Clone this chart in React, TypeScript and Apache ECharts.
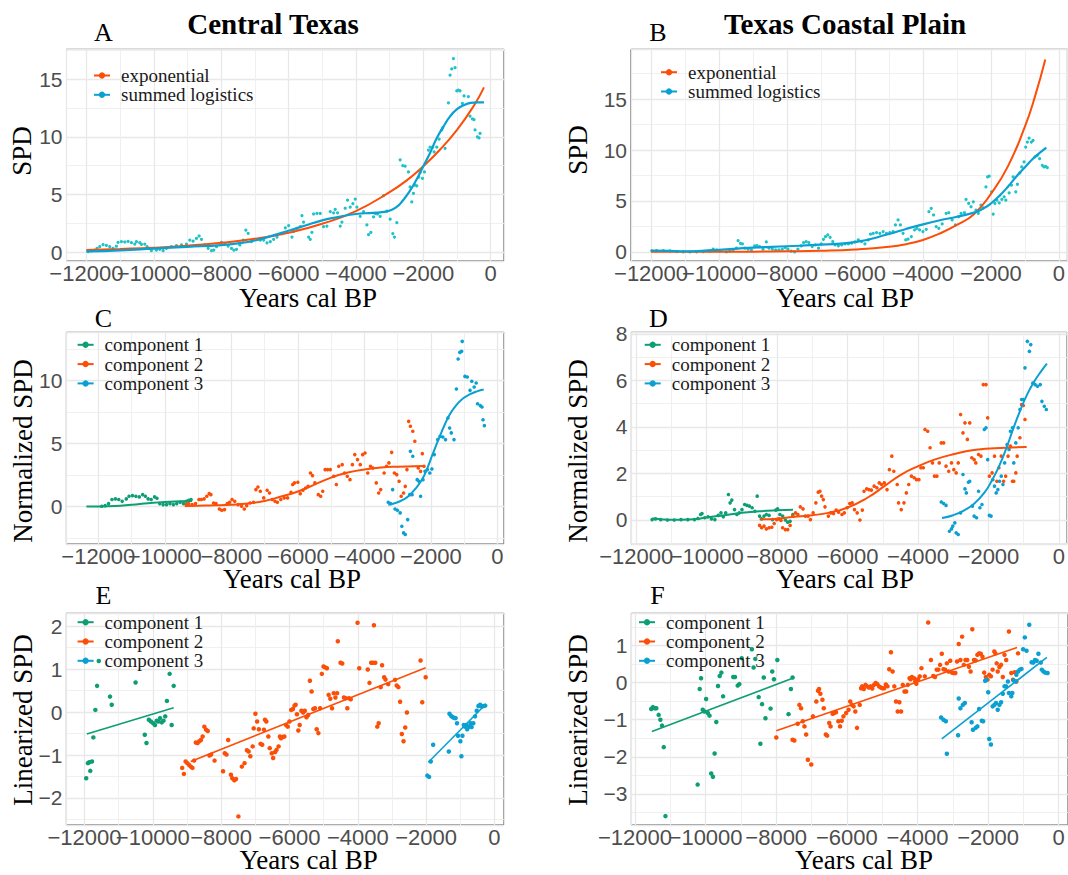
import React, { useEffect, useRef } from "react";
import * as echarts from "echarts";

// ---------- colours ----------
const ORANGE = "#FC4E07";
const BLUE = "#0AA0D2";
const GREEN = "#0E9E74";
const CYAN = "#1EC3C9";

// ---------- panel A : Central Texas SPD ----------
const aSpd: [number, number][] = [
  [-11950,0.03],[-11851,0.09],[-11752,0.17],[-11683,0.32],[-11604,0.46],[-11505,0.64],[-11406,0.58],[-11307,0.46],[-11208,0.32],[-11109,0.5],
  [-11060,0.84],[-10960,0.9],[-10861,0.87],[-10762,0.92],[-10663,0.81],[-10564,0.69],[-10515,0.9],[-10416,0.81],[-10366,0.66],[-10267,0.69],
  [-10198,0.46],[-10119,0.32],[-10070,0.12],[-9921,0.17],[-9822,0.23],[-9722,0.12],[-9624,0.32],[-9475,0.46],[-9327,0.55],[-9178,0.61],
  [-9030,0.69],[-8931,1.04],[-8832,0.95],[-8733,1.18],[-8654,1.39],[-8584,1.1],[-8485,0.61],[-8386,0.32],[-8287,0.12],[-8218,0.17],
  [-8139,0.46],[-7990,0.84],[-7891,0.69],[-7792,0.52],[-7693,0.32],[-7624,0.17],[-7545,0.23],[-7446,0.61],[-7347,1.04],[-7268,1.9],
  [-7199,1.62],[-7100,0.9],[-6837,1.04],[-6738,1.04],[-6639,0.8],[-6541,0.9],[-6442,1.1],[-6343,1.3],[-6195,1.6],[-6096,2.1],
  [-5997,2.3],[-5898,1.3],[-5849,1.8],[-5750,2.05],[-5651,2.2],[-5602,3.15],[-5553,2.6],[-5404,1.3],[-5355,1.1],[-5306,1.7],
  [-5256,3.3],[-5157,3.35],[-5059,3.35],[-4960,2.2],[-4861,2.25],[-4762,3.5],[-4663,3.4],[-4614,3.7],[-4545,3.4],[-4466,2.25],
  [-4416,2.6],[-4318,3.8],[-4248,4.5],[-4169,3.9],[-4090,4.2],[-4021,4.6],[-3972,3.9],[-3873,3.1],[-3774,3.5],[-3675,2.35],
  [-3626,1.5],[-3557,1.7],[-3478,3.05],[-3428,3.35],[-3359,3.3],[-3280,3.1],[-3181,4.9],[-3083,3.55],[-2984,2.85],[-2905,1.6],
  [-2855,1.3],[-2786,2.55],[-2687,8.0],[-2608,7.5],[-2539,7.45],[-2440,6.95],[-2391,5.65],[-2342,4.35],[-2292,5.1],[-2243,5.8],
  [-2193,5.75],[-2134,6.5],[-2095,6.9],[-2025,6.4],[-1966,6.95],[-1848,8.85],[-1798,9.1],[-1719,9.1],[-1680,8.7],[-1600,9.1],
  [-1531,9.8],[-1452,10.6],[-1423,10.8],[-1354,9.0],[-1255,12.95],[-1205,15.35],[-1156,15.9],[-1107,16.8],[-1057,16.0],[-1008,14.0],
  [-958,14.05],[-909,14.0],[-840,12.9],[-790,13.55],[-662,13.5],[-613,11.8],[-543,11.55],[-494,11.5],[-464,10.6],[-395,10.0],
  [-346,9.9],[-316,10.3]
];
const aExp: [number, number][] = [
  [-12000,0.18],[-11000,0.27],[-10000,0.38],[-9000,0.55],[-8000,0.8],[-7000,1.15],[-6000,1.68],[-5000,2.45],
  [-4000,3.55],[-3000,5.2],[-2500,6.2],[-2000,7.45],[-1500,8.9],[-1000,10.6],[-500,12.7],[-200,14.3]
];
const aLogis: [number, number][] = [
  [-12000,0.05],[-11000,0.15],[-10000,0.3],[-9000,0.45],[-8000,0.6],[-7500,0.75],[-7000,1.0],[-6500,1.4],[-6000,1.85],
  [-5500,2.3],[-5000,2.75],[-4500,3.05],[-4000,3.3],[-3500,3.4],[-3100,3.5],[-2800,3.9],[-2600,4.5],[-2400,5.3],[-2200,6.3],
  [-2000,7.45],[-1800,8.6],[-1600,9.9],[-1400,10.9],[-1200,11.8],[-1000,12.4],[-800,12.75],[-600,12.95],[-400,13.0],[-200,13.0]
];

// ---------- panel B : Texas Coastal Plain SPD ----------
const bSpd: [number, number][] = [
  [-11980,0.1],[-11834,0.13],[-11638,0.13],[-11443,0.1],[-11247,0.03],[-11052,0],[-10856,0],[-10661,0],[-10465,0.03],[-10270,0.06],
  [-10172,0.26],[-10074,0.19],[-9977,0.1],[-9781,0],[-9683,0.06],[-9586,0.19],[-9488,0.36],[-9439,1.1],[-9370,0.84],[-9312,0.78],
  [-9243,0.36],[-9146,0.26],[-9048,0.19],[-8950,0.58],[-8882,0.62],[-8804,0.52],[-8706,0.26],[-8608,0.97],[-8530,0.36],[-8432,0.26],
  [-8334,0.19],[-8237,0.19],[-8139,0.26],[-8051,0.42],[-7973,0.26],[-7875,0.06],[-7777,0],[-7679,0.26],[-7582,0.58],[-7513,0.91],
  [-7435,1.0],[-7357,0.91],[-7259,0.52],[-7161,0.68],[-7073,0.36],[-6995,0.78],[-6927,1.23],[-6868,1.49],[-6800,1.66],[-6731,1.43],
  [-6653,1.0],[-6585,0.68],[-6488,0.59],[-6390,0.68],[-6293,0.78],[-6195,0.78],[-6098,0.85],[-6000,0.98],[-5902,1.17],[-5805,1.01],
  [-5707,0.78],[-5610,1.17],[-5541,1.73],[-5463,1.82],[-5366,1.89],[-5268,1.82],[-5171,1.99],[-5073,1.82],[-4976,1.89],[-4878,1.99],
  [-4810,2.64],[-4732,3.13],[-4663,2.64],[-4585,1.82],[-4507,1.17],[-4439,1.24],[-4341,1.5],[-4244,2.15],[-4176,2.31],[-4098,2.15],
  [-4000,1.99],[-3902,2.21],[-3824,3.94],[-3756,4.27],[-3688,3.62],[-3610,2.48],[-3532,2.31],[-3434,2.74],[-3317,3.78],[-3239,3.84],
  [-3141,3.13],[-3044,2.64],[-2946,3.45],[-2878,3.78],[-2780,3.84],[-2732,5.15],[-2654,4.76],[-2585,4.43],[-2517,4.92],[-2439,4.1],
  [-2371,3.78],[-2293,4.59],[-2224,4.33],[-2146,6.38],[-2098,7.36],[-2049,7.43],[-1980,5.9],[-1932,3.71],[-1883,4.76],[-1824,5.08],
  [-1756,4.82],[-1678,5.15],[-1610,5.41],[-1561,5.08],[-1463,5.8],[-1395,6.55],[-1346,7.36],[-1268,5.9],[-1220,6.64],[-1151,7.75],
  [-1093,8.34],[-1024,8.83],[-976,10.29],[-927,10.78],[-878,11.17],[-810,10.78],[-761,10.94],[-702,9.32],[-634,9.48],[-566,9.15],
  [-488,8.5],[-439,8.34],[-390,8.4],[-341,8.27]
];
const bExp: [number, number][] = [
  [-12000,0.0],[-10000,0.01],[-9000,0.02],[-8000,0.05],[-7000,0.11],[-6000,0.24],[-5000,0.5],[-4500,0.75],[-4000,1.17],
  [-3500,1.8],[-3000,2.64],[-2500,3.7],[-2000,5.7],[-1500,8.4],[-1000,12.3],[-700,15.3],[-400,18.9]
];
const bLogis: [number, number][] = [
  [-12000,0.13],[-11500,0.1],[-11000,0.05],[-10500,0.1],[-10000,0.2],[-9000,0.42],[-8000,0.55],[-7000,0.7],[-6000,0.95],
  [-5000,1.75],[-4500,2.25],[-4000,2.7],[-3500,3.1],[-3000,3.45],[-2500,3.85],[-2200,4.3],[-2000,4.75],[-1750,5.5],
  [-1500,6.4],[-1250,7.4],[-1000,8.3],[-750,9.2],[-500,9.9],[-370,10.25]
];

// ---------- panel C : Central Texas normalized components ----------
const cPts1: [number, number][] = [
  [-11897,0.03],[-11795,0.08],[-11692,0.24],[-11590,0.56],[-11487,0.61],[-11385,0.56],[-11282,0.42],[-11159,0.61],[-11077,0.82],[-10974,0.87],
  [-10871,0.82],[-10769,0.77],[-10666,0.95],[-10584,0.82],[-10502,0.61],[-10410,0.56],[-10307,0.77],[-10236,0.66],[-10154,0.24],[-10051,0.16],
  [-9948,0.16],[-9846,0.24],[-9743,0.16],[-9641,0.24],[-9538,0.34],[-9436,0.24],[-9354,0.42],[-9282,0.5],[-9210,0.56]
];
const cPts2: [number, number][] = [
  [-9353,0.16],[-9282,0.24],[-9179,0.16],[-9077,0.24],[-8974,0.56],[-8902,0.56],[-8820,0.61],[-8738,0.82],[-8666,1.03],[-8615,0.95],
  [-8533,0.29],[-8461,0.24],[-8359,-0.19],[-8287,-0.29],[-8205,-0.24],[-8123,0.24],[-8051,0.34],[-7979,0.56],[-7897,0.42],[-7795,0.16],
  [-7692,0.03],[-7610,-0.19],[-7538,0.08],[-7436,0.29],[-7333,0.34],[-7261,1.35],[-7200,1.56],[-7128,1.22],[-7025,0.69],[-6923,1.3],
  [-6851,1.08],[-6769,0.56],[-6687,0.42],[-6615,0.34],[-6513,0.56],[-6410,0.69],[-6307,0.69],[-6205,1.14],[-6154,1.75],[-6102,1.88],
  [-6000,1.93],[-5928,1.03],[-5846,1.3],[-5764,1.48],[-5692,1.61],[-5620,2.67],[-5559,2.46],[-5487,1.88],[-5384,0.95],[-5313,0.82],
  [-5251,1.22],[-5179,2.94],[-5107,2.94],[-5025,2.94],[-4923,2.41],[-4841,1.75],[-4769,3.2],[-4666,3.33],[-4595,2.67],[-4513,2.41],
  [-4431,2.14],[-4359,3.33],[-4287,4.13],[-4205,3.73],[-4123,3.33],[-4051,4.13],[-3979,4.26],[-3897,2.67],[-3815,3.2],[-3743,3.07],
  [-3641,1.88],[-3569,1.08],[-3508,1.35],[-3405,2.67],[-3333,3.2],[-3261,3.47],[-3179,4.31],[-3097,2.67],[-3026,2.54],[-2954,2.01],
  [-2892,0.82],[-2820,1.08],[-2769,1.61],[-2718,2.94],[-2667,6.77],[-2615,6.38],[-2543,5.98],[-2482,5.19],[-2379,3.07],[-2308,2.8],
  [-2256,4.21],[-2205,3.2]
];
const cPts3: [number, number][] = [
  [-3282,0.34],[-3210,0.24],[-3149,1.35],[-3077,-0.19],[-3005,-0.29],[-2923,-0.5],[-2872,-1.56],[-2820,-2.09],[-2769,-2.22],[-2697,-1.03],
  [-2636,0.95],[-2564,0.95],[-2615,4.39],[-2543,4.0],[-2410,2.14],[-2359,2.01],[-2308,0.82],[-2236,2.14],[-2174,2.8],[-2103,2.94],
  [-2031,2.67],[-1969,2.99],[-1897,4.13],[-1795,5.32],[-1723,5.58],[-1641,5.53],[-1559,5.32],[-1487,7.04],[-1436,6.24],[-1385,5.85],
  [-1303,5.32],[-1231,9.34],[-1179,11.72],[-1128,12.25],[-1077,12.33],[-1056,13.12],[-974,10.34],[-903,10.29],[-821,9.23],[-769,9.95],
  [-697,9.5],[-636,9.81],[-595,8.17],[-513,8.02],[-462,7.91],[-431,6.9],[-390,6.43]
];
const cFit1: [number, number][] = [
  [-12358,0.0],[-11500,0.05],[-11000,0.15],[-10500,0.27],[-10000,0.37],[-9500,0.42],[-9180,0.45]
];
const cFit2: [number, number][] = [
  [-9400,0.05],[-9000,0.07],[-8500,0.1],[-8000,0.15],[-7500,0.25],[-7000,0.45],[-6500,0.8],[-6000,1.2],[-5500,1.75],
  [-5000,2.3],[-4500,2.7],[-4000,2.95],[-3500,3.1],[-3000,3.17],[-2500,3.2],[-2200,3.22]
];
const cFit3: [number, number][] = [
  [-3280,0.15],[-3000,0.35],[-2800,0.6],[-2667,0.85],[-2500,1.3],[-2256,2.2],[-2100,3.1],[-1969,4.0],[-1850,4.8],
  [-1744,5.5],[-1600,6.4],[-1436,7.3],[-1250,8.0],[-1026,8.6],[-800,8.95],[-615,9.15],[-410,9.3]
];

// ---------- panel D : Coastal Plain normalized components ----------
const dPts1: [number, number][] = [
  [-11548,0.01],[-11451,0.04],[-11307,0.01],[-11115,-0.01],[-10922,-0.01],[-10730,0.01],[-10537,0.01],[-10345,0.01],[-10248,0.06],[-10171,0.23],
  [-10133,0.27],[-10056,0.09],[-9960,0.13],[-9864,0.04],[-9767,0.01],[-9671,0.19],[-9594,0.3],[-9527,0.13],[-9460,0.3],[-9382,1.09],
  [-9334,0.73],[-9286,0.85],[-9209,0.44],[-9142,0.23],[-9075,0.3],[-8998,0.44],[-8921,0.66],[-8853,0.62],[-8786,0.59],[-8709,0.52],
  [-8632,0.37],[-8565,1.02],[-8497,0.16],[-8440,0.04],[-8372,0.16],[-8305,0.23],[-8228,0.19],[-8131,0.01],[-8035,0.42],[-7987,0.47],
  [-7920,0.23],[-7843,0.16],[-7766,-0.01],[-7698,-0.1],[-7631,-0.06],[-7554,0.23]
];
const dPts2: [number, number][] = [
  [-8497,-0.24],[-8440,-0.34],[-8372,-0.27],[-8305,-0.39],[-8228,-0.34],[-8151,-0.32],[-8083,-0.16],[-8016,0.01],[-7958,0.04],[-7891,-0.03],
  [-7843,-0.34],[-7766,-0.42],[-7698,-0.42],[-7631,-0.24],[-7554,0.16],[-7477,0.3],[-7410,0.23],[-7342,0.56],[-7265,0.47],[-7198,0.16],
  [-7121,0.16],[-7054,0.01],[-6977,0.3],[-6900,0.73],[-6832,1.19],[-6784,1.23],[-6736,1.02],[-6688,0.87],[-6640,0.56],[-6544,0.16],
  [-6476,0.3],[-6399,0.27],[-6322,0.42],[-6255,0.33],[-6159,0.23],[-6091,0.3],[-6014,0.52],[-5937,0.7],[-5870,0.73],[-5803,0.44],
  [-5726,0.3],[-5649,-0.01],[-5581,0.42],[-5533,1.23],[-5456,1.33],[-5389,1.3],[-5322,1.28],[-5245,1.45],[-5168,1.38],[-5100,1.59],
  [-5033,1.52],[-4956,1.59],[-4879,1.3],[-4812,2.16],[-4744,2.74],[-4686,2.09],[-4590,1.52],[-4552,0.73],[-4475,0.44],[-4398,0.73],
  [-4330,1.16],[-4263,1.52],[-4186,1.88],[-4109,1.81],[-4042,1.73],[-3974,1.73],[-3917,2.24],[-3849,2.24],[-3801,3.89],[-3724,3.81],
  [-3657,3.1],[-3589,2.45],[-3532,1.88],[-3464,1.88],[-3397,2.45],[-3339,3.31],[-3272,3.31],[-3204,2.31],[-3127,2.09],[-3050,2.45],
  [-2983,2.16],[-2916,2.02],[-2858,2.45],[-2791,4.53],[-2723,3.74],[-2666,4.17],[-2598,3.46],[-2531,4.17],[-2473,2.67],[-2406,2.59],
  [-2358,2.45],[-2281,2.81],[-2213,2.74],[-2146,5.82],[-2069,5.82],[-2021,4.39],[-1973,1.88],[-1896,2.02],[-1828,2.74],[-1761,1.66],
  [-1703,2.24],[-1636,2.74],[-1569,1.66],[-1511,1.88],[-1443,2.74],[-1376,3.17],[-1318,1.66],[-1280,1.66],[-1222,2.02],[-1184,2.74],
  [-1107,3.53],[-1059,4.96],[-1010,4.92],[-962,4.32]
];
const dPts3: [number, number][] = [
  [-3339,0.77],[-3272,0.7],[-3204,0.62],[-3108,-0.49],[-3050,-0.39],[-3012,-0.27],[-2954,-0.13],[-2916,-0.56],[-2858,-0.63],[-2791,0.3],
  [-2723,1.95],[-2666,1.33],[-2627,1.16],[-2569,1.62],[-2531,1.66],[-2454,0.59],[-2406,0.16],[-2338,0.09],[-2281,1.23],[-2242,0.52],
  [-2184,0.66],[-2117,3.89],[-2069,3.96],[-2021,2.59],[-1973,0.19],[-1925,0.16],[-1876,1.73],[-1828,1.45],[-1780,1.16],[-1732,1.3],
  [-1684,1.66],[-1636,1.88],[-1588,1.52],[-1540,2.45],[-1472,3.24],[-1415,3.03],[-1376,3.81],[-1318,3.96],[-1280,2.45],[-1222,3.31],
  [-1155,3.96],[-1107,4.75],[-1059,5.18],[-1010,5.18],[-962,6.54],[-895,7.68],[-837,7.25],[-799,7.54],[-741,5.89],[-674,5.82],
  [-606,5.75],[-529,5.82],[-481,5.1],[-414,4.89],[-356,4.75]
];
const dFit1: [number, number][] = [
  [-11548,0.06],[-11300,0.03],[-11000,0.0],[-10500,0.01],[-10200,0.05],[-10000,0.1],[-9500,0.2],[-9000,0.3],[-8500,0.37],[-8000,0.41],[-7550,0.43]
];
const dFit2: [number, number][] = [
  [-8497,0.02],[-8000,0.05],[-7554,0.12],[-7000,0.2],[-6544,0.3],[-6014,0.52],[-5437,0.95],[-4956,1.45],[-4475,1.95],
  [-3994,2.31],[-3513,2.6],[-3031,2.81],[-2358,3.02],[-1500,3.1],[-915,3.13]
];
const dFit3: [number, number][] = [
  [-3320,0.08],[-3000,0.2],[-2700,0.4],[-2400,0.7],[-2100,1.2],[-1900,1.7],[-1700,2.3],[-1500,3.05],[-1300,3.9],
  [-1100,4.7],[-900,5.4],[-700,5.95],[-500,6.4],[-340,6.72]
];

// ---------- panel E : Central Texas linearized ----------
const ePts1: [number, number][] = [
  [-11950,-1.54],[-11901,-1.19],[-11861,-1.17],[-11781,-1.15],[-11831,-1.37],[-11741,-0.59],[-11682,0.05],[-11632,0.61],[-11582,1.19],[-11253,0.36],
  [-11203,0.17],[-10505,0.69],[-10236,-0.53],[-10186,-0.72],[-10116,-0.18],[-10057,-0.22],[-9987,-0.26],[-9937,-0.3],[-9887,-0.2],[-9837,-0.22],
  [-9788,-0.14],[-9738,-0.24],[-9688,-0.2],[-9638,-0.1],[-9588,0.26],[-9508,0.89],[-9449,-0.3],[-9389,0.61]
];
const ePts2: [number, number][] = [
  [-9140,-1.3],[-9090,-1.44],[-9040,-1.15],[-8990,-1.19],[-8941,-1.23],[-8891,-1.27],[-8841,-1.3],[-8791,-1.13],[-8741,-0.71],[-8691,-0.72],
  [-8641,-0.68],[-8592,-0.65],[-8542,-0.57],[-8492,-0.34],[-8442,-0.41],[-8392,-0.44],[-8342,-1.01],[-8293,-0.99],[-8193,-1.13],[-7944,-1.38],
  [-7894,-0.96],[-7844,-0.99],[-7794,-0.65],[-7714,-1.46],[-7675,-1.54],[-7615,-1.59],[-7565,-1.56],[-7495,-2.43],[-7395,-1.27],[-7316,-1.19],
  [-7246,-0.89],[-7196,-0.92],[-7146,-1.03],[-7077,-0.8],[-7047,-0.38],[-6997,-0.04],[-6947,-0.22],[-6897,-0.4],[-6847,-0.74],[-6798,-0.76],
  [-6748,-0.41],[-6718,-0.18],[-6678,-0.22],[-6618,-0.57],[-6578,-0.84],[-6518,-0.96],[-6478,-1.07],[-6419,-0.93],[-6379,-0.88],[-6319,-0.8],
  [-6279,-0.57],[-6249,-0.61],[-6199,-0.58],[-6150,-0.57],[-6100,-0.3],[-6050,-0.34],[-6000,-0.22],[-5950,0.05],[-5900,0.07],[-5851,0.15],
  [-5821,0.17],[-5781,-0.05],[-5741,-0.43],[-5701,-0.3],[-5651,0.03],[-5601,-0.01],[-5552,0.03],[-5502,-0.12],[-5452,-0.07],[-5402,0.73],
  [-5352,0.48],[-5302,0.07],[-5253,0.09],[-5203,-0.4],[-5153,-0.49],[-5103,0.09],[-5053,0.89],[-5003,1.06],[-4954,1.04],[-4904,1.02],
  [-4854,0.4],[-4804,0.31],[-4754,0.09],[-4704,0.44],[-4655,0.34],[-4605,0.44],[-4585,1.65],[-4505,1.15],[-4455,1.13],[-4405,0.34],
  [-4356,0.32],[-4306,0.09],[-4256,0.32],[-4206,0.3],[-4007,2.08],[-3957,1.02],[-3708,0.99],[-3658,0.68],[-3608,1.15],[-3558,1.15],
  [-3528,2.02],[-3488,1.15],[-3429,-0.34],[-3389,-0.26],[-3329,0.58],[-3289,1.09],[-3229,0.81],[-3189,0.76],[-3110,0.65],[-2910,0.75],
  [-2861,0.62],[-2811,0.58],[-2761,0.24],[-2711,-0.51],[-2661,-0.68],[-2611,-0.36],[-2562,-0.01],[-2163,1.2],[-2113,0.23],[-2013,0.81]
];
const ePts3: [number, number][] = [
  [-1964,-1.48],[-1914,-1.51],[-1864,-1.15],[-1794,-0.76],[-1336,-0.92],[-1316,-0.04],[-1266,-0.09],[-1216,-0.12],[-1166,-0.14],[-1136,-0.14],
  [-1096,-0.26],[-1066,-0.55],[-997,-0.68],[-967,-1.03],[-937,-0.55],[-897,-0.3],[-867,-0.34],[-817,-0.3],[-797,-0.4],[-738,-0.34],
  [-698,-0.26],[-668,-0.35],[-618,-0.26],[-568,-0.1],[-518,0.03],[-468,0.14],[-419,0.17],[-369,0.13],[-319,0.14],[-269,0.15]
];
const eFit1: [number, number][] = [[-11931,-0.51],[-9389,0.1]];
const eFit2: [number, number][] = [[-8891,-1.15],[-2013,1.03]];
const eFit3: [number, number][] = [[-1934,-1.17],[-269,0.17]];

// ---------- panel F : Coastal Plain linearized ----------
const fPts1: [number, number][] = [
  [-11539,-0.71],[-11491,-0.66],[-11443,-0.69],[-11395,-0.69],[-11328,-0.87],[-11280,-1.0],[-11232,-1.16],[-11184,-1.74],[-11136,-3.6],[-10224,-2.75],
  [-10166,-0.17],[-10128,0.12],[-10080,-0.73],[-10032,-0.78],[-9984,-0.44],[-9936,-0.82],[-9888,-0.89],[-9840,-2.45],[-9792,-2.54],[-9744,-1.91],
  [-9696,-1.06],[-9648,-0.09],[-9600,0.18],[-9552,0.27],[-9504,-0.37],[-9216,0.15],[-9168,0.15],[-9091,-0.08],[-9043,-0.04],[-8976,0.66],
  [-8688,0.9],[-8640,0.41],[-8592,0.64],[-8496,-0.39],[-8448,-1.65],[-8400,-0.58],[-8352,0.14],[-8304,-0.96],[-8160,-0.7],[-8112,0.3],
  [-8064,0.09],[-7968,0.61],[-7651,-0.85],[-7584,-0.17],[-7536,0.14]
];
const fPts2: [number, number][] = [
  [-7997,-1.48],[-7536,-1.54],[-7488,-1.56],[-7392,-1.11],[-7344,-0.6],[-7296,-0.69],[-7248,-1.04],[-7200,-1.18],[-7152,-1.4],[-7104,-2.08],
  [-7008,-2.21],[-6960,-0.91],[-6864,-0.51],[-6816,-0.22],[-6787,-0.17],[-6749,-0.3],[-6691,-0.46],[-6653,-0.69],[-6595,-1.4],[-6557,-1.43],
  [-6499,-1.09],[-6461,-1.18],[-6403,-0.84],[-6365,-0.82],[-6307,-0.8],[-6240,-1.04],[-6192,-1.18],[-6144,-1.03],[-6096,-0.91],[-6019,-0.82],
  [-5952,-0.73],[-5904,-0.51],[-5856,-0.6],[-5808,-0.64],[-5760,-0.78],[-5712,-1.22],[-5635,-0.6],[-5597,-0.15],[-5568,-0.1],[-5520,-0.17],
  [-5472,-0.06],[-5424,-0.1],[-5376,-0.13],[-5328,-0.1],[-5280,-0.16],[-5232,-0.06],[-5184,-0.01],[-5136,-0.04],[-5088,-0.1],[-5040,-0.13],
  [-4992,-0.15],[-4944,-0.15],[-4896,-0.05],[-4848,-0.1],[-4800,0.36],[-4752,0.82],[-4704,0.3],[-4656,-0.1],[-4608,-0.51],[-4560,-0.78],
  [-4512,-0.53],[-4464,-0.78],[-4416,-0.06],[-4368,-0.24],[-4320,-0.24],[-4272,-0.06],[-4224,0.12],[-4195,0.09],[-4157,0.15],[-4099,0.12],
  [-4061,0.03],[-4032,-0.03],[-3984,0.09],[-3936,0.17],[-3888,0.39],[-3792,0.17],[-3696,1.62],[-3619,0.61],[-3552,0.18],[-3504,0.15],
  [-3456,0.35],[-3408,0.35],[-3360,0.48],[-3312,0.78],[-3264,0.36],[-3216,0.35],[-3168,0.52],[-3120,0.3],[-3072,0.59],[-3024,0.27],
  [-2976,0.26],[-2928,0.26],[-2880,0.57],[-2832,1.04],[-2784,0.61],[-2736,1.24],[-2688,0.48],[-2640,0.61],[-2592,0.61],[-2544,0.43],
  [-2496,0.3],[-2448,1.44],[-2400,0.61],[-2352,0.6],[-2304,0.75],[-2256,0.79],[-2208,0.78],[-2160,0.7],[-2112,0.27],[-2064,0.15],
  [-2016,0.08],[-1968,0.21],[-1920,0.17],[-1872,0.35],[-1824,0.84],[-1795,0.79],[-1757,0.52],[-1728,0.3],[-1680,0.42],[-1632,0.48],
  [-1584,0.15],[-1536,0.75],[-1488,0.61],[-1411,1.38],[-1344,0.26],[-1296,0.08],[-1248,0.28],[-1200,0.03],[-1152,0.79]
];
const fPts3: [number, number][] = [
  [-3331,-0.94],[-3264,-1.0],[-3197,-1.04],[-3168,-1.92],[-2832,-0.43],[-2784,-0.69],[-2717,-0.6],[-2659,-0.55],[-2850,-1.42],[-2467,-1.07],
  [-2429,-1.27],[-2352,-1.22],[-2304,-1.18],[-2256,-0.71],[-2179,-1.03],[-2141,-1.04],[-2083,0.05],[-2045,0.08],[-1997,-0.26],[-1968,-1.52],
  [-1920,-1.67],[-1872,-0.64],[-1824,-0.6],[-1776,-0.55],[-1728,-0.73],[-1680,-0.6],[-1632,-0.53],[-1584,-0.3],[-1536,-0.1],[-1488,-0.1],
  [-1440,0.03],[-1411,-0.28],[-1344,-0.37],[-1315,-0.28],[-1277,0.06],[-1219,0.03],[-1200,0.21],[-1152,0.3],[-1104,0.35],[-1056,0.37],
  [-1008,0.9],[-960,1.22],[-912,0.86],[-835,1.56],[-768,0.55],[-720,0.54],[-672,0.61],[-624,0.59],[-576,0.78],[-509,0.54],
  [-480,0.35],[-432,0.3],[-384,0.27],[-317,0.26]
];
const fFit1: [number, number][] = [[-11520,-1.32],[-7536,0.12]];
const fFit2: [number, number][] = [[-7997,-1.3],[-1181,0.95]];
const fFit3: [number, number][] = [[-3312,-1.52],[-336,0.68]];

// ---------- texts ----------
const panelTitles = ["Central Texas", "Texas Coastal Plain"];
const panelLetters = ["A", "B", "C", "D", "E", "F"];
const yTitles = ["SPD", "SPD", "Normalized SPD", "Normalized SPD", "Linearized SPD", "Linearized SPD"];
const xTitle = "Years cal BP";
const legendTop = ["exponential", "summed logistics"];
const legendComp = ["component 1", "component 2", "component 3"];

// ---------- layout (pixels) ----------
const grids = [
  { left: 66.5, top: 49.3, width: 437.5, height: 211.7 },
  { left: 631, top: 49.3, width: 437.5, height: 211.7 },
  { left: 66.4, top: 332.3, width: 437.6, height: 211.7 },
  { left: 631.4, top: 332.3, width: 437.5, height: 211.7 },
  { left: 66.4, top: 613.3, width: 437.6, height: 211.7 },
  { left: 631.4, top: 613.3, width: 437.5, height: 211.7 },
];
const xRanges = [[-12590, 395], [-12590, 250], [-12960, 200], [-12137, 232], [-12530, 280], [-12100, 262]];
const yRanges = [[-0.78, 17.6], [-0.9, 19.9], [-2.97, 13.84], [-1.04, 8.07], [-2.63, 2.3], [-3.84, 1.87]];
const ySplits = [4, 4, 4, 4, 5, 5];

const fmt = (v: number) => String(v).replace("-", "\u2212");

const axisLabelStyle = {
  color: "#4D4D4D",
  fontFamily: "Liberation Sans",
  fontSize: 22,
  showMinLabel: false,
  showMaxLabel: false,
  formatter: fmt,
};

function mkX(i: number) {
  return {
    type: "value",
    gridIndex: i,
    min: xRanges[i][0],
    max: xRanges[i][1],
    splitNumber: 6,
    axisLine: { show: false },
    axisTick: { show: false },
    axisLabel: { ...axisLabelStyle, margin: 1.5 },
    splitLine: { show: true, lineStyle: { color: "#E8E8E8", width: 1.3 } },
    minorTick: { show: false, splitNumber: 2 },
    minorSplitLine: { show: true, lineStyle: { color: "#EEEEEE", width: 0.9 } },
  };
}
function mkY(i: number) {
  return {
    type: "value",
    gridIndex: i,
    min: yRanges[i][0],
    max: yRanges[i][1],
    splitNumber: ySplits[i],
    axisLine: { show: false },
    axisTick: { show: false },
    axisLabel: { ...axisLabelStyle, fontSize: 21, margin: 4 },
    splitLine: { show: true, lineStyle: { color: "#E8E8E8", width: 1.3 } },
    minorTick: { show: false, splitNumber: 2 },
    minorSplitLine: { show: true, lineStyle: { color: "#EEEEEE", width: 0.9 } },
  };
}
function pts(i: number, name: string, data: [number, number][], color: string, size: number) {
  return {
    type: "scatter", name, xAxisIndex: i, yAxisIndex: i, data, symbolSize: size,
    itemStyle: { color, opacity: 1 }, silent: true, z: 2,
  };
}
function fit(i: number, name: string, data: [number, number][], color: string, width: number, smooth: boolean) {
  return {
    type: "line", name, xAxisIndex: i, yAxisIndex: i, data, smooth,
    symbol: "circle", symbolSize: 6, showSymbol: false,
    lineStyle: { color, width }, itemStyle: { color }, silent: true, z: 3,
  };
}
function mkLegend(left: number, top: number, names: string[]) {
  return {
    left, top, orient: "vertical", itemWidth: 16, itemHeight: 8, itemGap: 0.3, padding: 0,
    selectedMode: false, data: names,
    textStyle: { fontFamily: "Liberation Serif", fontSize: 19, color: "#1A1A1A", lineHeight: 18, padding: [0, 0, 0, 6] },
  };
}
function txt(x: number, y: number, text: string, size: number, weight: string, rot = 0) {
  return {
    type: "text", x, y, rotation: rot, silent: true,
    style: { text, fontFamily: "Liberation Serif", fontSize: size, fontWeight: weight, fill: "#000", align: "center", verticalAlign: "middle" },
  };
}

export default function App() {
  const ref = useRef<HTMLDivElement>(null);
  useEffect(() => {
    document.body.style.margin = "0";
    if (!ref.current) return;
    const chart = echarts.init(ref.current, undefined, { renderer: "svg" });
    const option = {
      animation: false,
      backgroundColor: "#FFFFFF",
      grid: grids.map((g) => ({ ...g, show: true, borderColor: "#333333", borderWidth: 1, backgroundColor: "transparent", containLabel: false })),
      xAxis: [0, 1, 2, 3, 4, 5].map(mkX),
      yAxis: [0, 1, 2, 3, 4, 5].map(mkY),
      legend: [
        mkLegend(93, 66, legendTop),
        mkLegend(660, 62.7, legendTop),
        mkLegend(76.6, 335.3, legendComp),
        mkLegend(643.7, 335.3, legendComp),
        mkLegend(76.6, 612.7, legendComp),
        mkLegend(638, 612.7, legendComp),
      ],
      series: [
        pts(0, "Central Texas SPD", aSpd, CYAN, 3.2),
        fit(0, "exponential", aExp, ORANGE, 2, true),
        fit(0, "summed logistics", aLogis, BLUE, 2.2, true),
        pts(1, "Coastal Plain SPD", bSpd, CYAN, 3.2),
        fit(1, "exponential", bExp, ORANGE, 2, true),
        fit(1, "summed logistics", bLogis, BLUE, 2.2, true),
        pts(2, "C points 1", cPts1, GREEN, 3.6),
        pts(2, "C points 2", cPts2, ORANGE, 3.6),
        pts(2, "C points 3", cPts3, BLUE, 3.6),
        fit(2, "component 1", cFit1, GREEN, 2, true),
        fit(2, "component 2", cFit2, ORANGE, 2, true),
        fit(2, "component 3", cFit3, BLUE, 2, true),
        pts(3, "D points 1", dPts1, GREEN, 3.6),
        pts(3, "D points 2", dPts2, ORANGE, 3.6),
        pts(3, "D points 3", dPts3, BLUE, 3.6),
        fit(3, "component 1", dFit1, GREEN, 2, true),
        fit(3, "component 2", dFit2, ORANGE, 2, true),
        fit(3, "component 3", dFit3, BLUE, 2, true),
        pts(4, "E points 1", ePts1, GREEN, 4.5),
        pts(4, "E points 2", ePts2, ORANGE, 4.5),
        pts(4, "E points 3", ePts3, BLUE, 4.5),
        fit(4, "component 1", eFit1, GREEN, 1.6, false),
        fit(4, "component 2", eFit2, ORANGE, 1.6, false),
        fit(4, "component 3", eFit3, BLUE, 1.6, false),
        pts(5, "F points 1", fPts1, GREEN, 4.5),
        pts(5, "F points 2", fPts2, ORANGE, 4.5),
        pts(5, "F points 3", fPts3, BLUE, 4.5),
        fit(5, "component 1", fFit1, GREEN, 1.6, false),
        fit(5, "component 2", fFit2, ORANGE, 1.6, false),
        fit(5, "component 3", fFit3, BLUE, 1.6, false),
      ],
      graphic: [
        txt(273, 23.5, panelTitles[0], 29, "bold"),
        txt(845, 23.5, panelTitles[1], 29, "bold"),
        txt(103.5, 32.5, panelLetters[0], 26, "normal"),
        txt(658, 32.5, panelLetters[1], 26, "normal"),
        txt(103.5, 318, panelLetters[2], 26, "normal"),
        txt(658.5, 318, panelLetters[3], 26, "normal"),
        txt(103.5, 595.5, panelLetters[4], 26, "normal"),
        txt(657.5, 595.5, panelLetters[5], 26, "normal"),
        txt(22, 151, yTitles[0], 27, "normal", Math.PI / 2),
        txt(578, 150, yTitles[1], 27, "normal", Math.PI / 2),
        txt(22.5, 451, yTitles[2], 27, "normal", Math.PI / 2),
        txt(577.6, 451, yTitles[3], 27, "normal", Math.PI / 2),
        txt(22.5, 720, yTitles[4], 27, "normal", Math.PI / 2),
        txt(577.6, 720, yTitles[5], 27, "normal", Math.PI / 2),
        txt(308, 298, xTitle, 27, "normal"),
        txt(845, 298, xTitle, 27, "normal"),
        txt(292, 579, xTitle, 27, "normal"),
        txt(845, 579, xTitle, 27, "normal"),
        txt(308.6, 860, xTitle, 27, "normal"),
        txt(864, 860, xTitle, 27, "normal"),
      ],
    };
    chart.setOption(option as any);
    return () => chart.dispose();
  }, []);
  return <div ref={ref} style={{ width: 1068, height: 875 }} />;
}
